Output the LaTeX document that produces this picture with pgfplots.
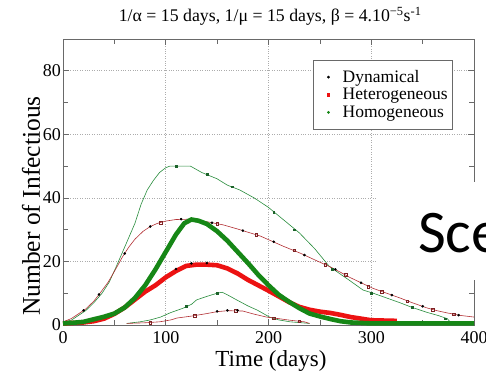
\documentclass[border=0pt]{standalone}
\usepackage{fontspec}
\setmainfont{Liberation Serif}
\newfontfamily\slidefont{Carlito}
\usepackage{pgfplots}
\pgfplotsset{compat=1.18}

\definecolor{thickgreen}{RGB}{22,135,22}
\definecolor{thickred}{RGB}{236,18,18}
\definecolor{thinred}{RGB}{178,48,52}
\definecolor{thingreen}{RGB}{40,140,60}
\definecolor{framegray}{RGB}{105,105,105}

\begin{document}
\begin{tikzpicture}
\begin{axis}[
  name=ax, at={(0pt,0pt)}, anchor=south west,
  scale only axis, width=411pt, height=286pt,
  xmin=0, xmax=400, ymin=0, ymax=90,
  xtick={0,100,...,400}, ytick={0,20,...,80},
  minor xtick={50,150,250,350}, minor ytick={10,30,50,70},
  tick align=inside, major tick length=6pt, minor tick length=5pt,
  axis line style={framegray, line width=0.8pt},
  every tick/.style={framegray, line width=0.6pt},
  grid=major,
  major grid style={dotted, gray!65, line width=0.6pt},
  /pgf/number format/assume math mode=true,
  tick label style={font=\fontsize{18}{18}\selectfont, text=black},
  xticklabel style={yshift=-3pt},
  yticklabel style={xshift=1.5pt},
  title={1/α = 15 days, 1/μ = 15 days, β = 4.10\textsuperscript{−5}s\textsuperscript{-1}},
  title style={font=\fontsize{17.8}{17.8}\selectfont, at={(axis description cs:0.504,1.0385)}, anchor=base},
  xlabel={Time (days)},
  xlabel style={font=\fontsize{23}{23}\selectfont, at={(axis description cs:0.506,-0.1434)}, anchor=base},
  ylabel={Number of Infectious},
  ylabel style={font=\fontsize{25.5}{25.5}\selectfont, at={(axis description cs:-0.056,0.416)}, anchor=base, rotate=0},
  legend style={at={(axis description cs:1,1)}, anchor=north east, xshift=-21pt, yshift=-21pt,
    draw=framegray, line width=0.6pt, font=\fontsize{17.5}{17.5}\selectfont,
    row sep=0.5pt, inner xsep=3pt, inner ysep=8pt},
  legend cell align=left,
  legend image code/.code={\path (-12pt,0pt) (12pt,0pt); \draw[#1] plot coordinates {(0pt,0pt)};},
]
\addlegendimage{only marks, mark=*, mark size=1.1pt, black}
\addlegendentry{Dynamical}
\addlegendimage{only marks, mark=square*, mark size=1.2pt, thickred}
\addlegendentry{Heterogeneous}
\addlegendimage{only marks, mark=*, mark size=1.1pt, thickgreen}
\addlegendentry{Homogeneous}

% Homogeneous upper (thin green)
\addplot[thingreen, line width=0.6pt, forget plot] coordinates {
(0,1)(8,1.5)(15,3)(22,4.5)(30,7)(38,10)(45,13.5)(52,18.5)(58,23)(64,27.5)(70,32)(76,38)(82,42.5)(88,45.5)(94,48)(100,49.5)(104,50)(124,50)(135,48)(150,46)(160,44)(172,42.5)(186,40)(200,37)(215,33)(230,29)(245,24)(259,18.5)(270,16)(279,14)(292,11)(302,10)(315,8.5)(328,7)(340,5.5)(354,4)(365,3)(374,2)(378,0.5)
};
% Heterogeneous upper (thin red)
\addplot[thinred, line width=0.6pt, forget plot] coordinates {
(0,1)(8,2)(15,3.5)(22,5)(30,7.5)(36,10)(44,13.5)(52,18)(58,21.5)(64,24.5)(70,27)(78,29.5)(85,31)(92,32)(100,32.7)(110,33.2)(125,33.3)(140,32.5)(156,31.5)(170,30.2)(182,29)(192,28)(201,26.7)(215,24.7)(231,22.6)(245,20.5)(260,18.3)(270,16.6)(279,15)(290,13.3)(302,11.5)(315,10)(328,8.5)(340,7)(354,5.4)(364,4.5)(374,3.8)(387,3)(400,2.5)
};
% Homogeneous lower (thin green)
\addplot[thingreen, line width=0.6pt, forget plot] coordinates {
(62,0.5)(75,1)(85,1.6)(95,2.5)(104,3.8)(110,4.5)(117,5.3)(125,6.5)(130,7.9)(140,9)(150,10)(155,10.3)(160,9.5)(169,7.9)(180,6)(189,4.7)(201,2.5)(210,1.6)(221,1)(240,0.5)
};
% Heterogeneous lower (thin red)
\addplot[thinred, line width=0.6pt, forget plot] coordinates {
(62,0.5)(80,0.7)(94,1)(105,1.6)(111,2.2)(125,2.8)(140,3.6)(150,4.2)(160,4.5)(175,4.4)(185,3.5)(198,2.5)(210,2)(221,1.5)(235,1)(240,0.5)
};
% Heterogeneous mean (thick red)
\addplot[thickred, line width=4.6pt, forget plot] coordinates {
(0,0.5)(20,0.8)(30,1.2)(40,2)(50,3.5)(60,5.5)(70,8)(80,10.5)(90,12.5)(100,15)(110,17)(120,18.6)(130,19)(140,19)(150,18.8)(160,17.8)(170,16.2)(180,14.2)(190,12.5)(200,10.8)(210,9)(220,7.2)(230,5.7)(240,4.8)(250,4.2)(260,3.8)(270,3.2)(280,2.5)(290,2)(300,1.5)(325,1.3)
};
% Homogeneous mean (thick green)
\addplot[thickgreen, line width=4.6pt, forget plot] coordinates {
(0,0.5)(10,0.7)(20,1)(30,1.8)(40,2.6)(50,3.6)(60,5.5)(70,8.5)(80,12.5)(90,17.5)(100,23)(110,28.5)(118,32)(125,33.2)(132,32.8)(140,31.8)(150,29.5)(160,26.5)(170,23)(180,19.5)(190,15.8)(200,12.5)(210,9.5)(220,7.3)(230,5.3)(240,3.6)(250,2.7)(260,1.9)(270,1.2)(280,0.8)(300,0.5)(400,0.5)
};
% Homogeneous markers on thin curves
\addplot[only marks, mark=square*, mark size=0.9pt, thingreen!70!black, forget plot] coordinates {
(110,50)(140,47.5)(165,43.5)(205,35.5)(225,30)(262,17.5)(300,10)(340,5.5)(372,2)(150,10)(120,5.8)
};
% Heterogeneous markers on thin curves
\addplot[only marks, mark=square, mark size=1.3pt, thinred!70!black, forget plot] coordinates {
(95,32.2)(150,31.8)(188,28.4)(225,23.5)(255,19)(275,15.8)(297,12)(310,10.5)(335,7.5)(360,4.8)(380,3.4)(128,2.9)(168,4.5)(205,2.2)(230,1.2)(85,0.8)
};
% Dynamical markers
\addplot[only marks, mark=*, mark size=1.1pt, black, forget plot] coordinates {
(20,4.6)(35,9.6)(60,22.5)(85,31)(115,33.3)(145,32.2)(175,29.7)(205,26.2)(235,22)(265,17.5)(290,13.3)(320,9.4)(350,5.9)(385,3.1)
(110,17.6)(125,19.4)(140,19.5)(150,4.3)(160,4.6)(170,4.6)
};
\end{axis}
\fill[white] (314pt,45pt) rectangle (430pt,143pt);
\begin{scope}
\clip (-63pt,-47pt) rectangle (423pt,325pt);
\node[anchor=base west, inner sep=0pt, font=\slidefont\fontsize{60.5}{60.5}\selectfont] at (355pt,73pt) {Sce};
\end{scope}
\pgfresetboundingbox
\path[use as bounding box] (-63pt,-47pt) rectangle (423pt,325pt);
\end{tikzpicture}
\end{document}
